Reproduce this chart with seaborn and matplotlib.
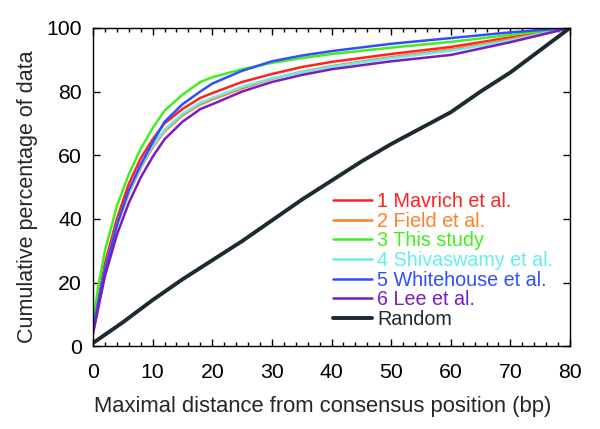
import numpy as np
import pandas as pd
import matplotlib
matplotlib.use("Agg")
import matplotlib.pyplot as plt
from matplotlib.ticker import MultipleLocator
import seaborn as sns

dist = [0, 1, 2, 4, 6, 8, 10, 12, 15, 18, 20, 25, 30, 35, 40, 50, 60, 70, 80]

mavrich = [5, 16, 26, 40, 51, 59, 65, 70, 74.5, 78, 79.5, 83, 85.5, 87.7, 89.3, 91.8, 94, 97, 100]
field = [4, 14, 24, 38, 48, 56, 62.5, 67.5, 72.5, 76, 77.5, 81, 84, 86.2, 88, 90.8, 93.2, 96.5, 100]
this_study = [8, 20, 30, 44, 54, 62, 68.5, 74, 79, 83, 84.5, 87, 89, 90.5, 91.8, 93.8, 95.6, 97.8, 100]
shivaswamy = [4, 14, 24, 38, 48.5, 56.5, 63, 68, 73, 76.5, 78, 81.5, 84.2, 86, 87.8, 90.5, 92.8, 96, 100]
whitehouse = [5, 15, 24, 38, 49, 57, 64, 70.5, 76, 80, 82.5, 86.5, 89.5, 91.3, 92.7, 95, 96.8, 98.6, 100]
lee = [4, 13, 22, 35, 45, 53, 59.5, 65, 70.5, 74.5, 76, 80, 83, 85.2, 87, 89.5, 91.5, 95.5, 100]

rand_dist = [0, 5, 10, 15, 20, 25, 30, 35, 40, 45, 50, 55, 60, 65, 70, 75, 80]
rand_vals = [1, 7.5, 14.5, 21, 27, 33, 39.5, 46, 52, 58, 63.5, 68.5, 73.5, 80, 86, 93, 100]

labels = ["1 Mavrich et al.", "2 Field et al.", "3 This study",
          "4 Shivaswamy et al.", "5 Whitehouse et al.", "6 Lee et al."]
colors = ["#ff2222", "#ff7f2a", "#44ee1c", "#66eeee", "#2f4fff", "#7a1cc0"]
rand_color = "#1c2b30"

series = [mavrich, field, this_study, shivaswamy, whitehouse, lee]
frames = [pd.DataFrame({"x": dist, "y": s, "set": lab}) for s, lab in zip(series, labels)]
df = pd.concat(frames, ignore_index=True)
df_rand = pd.DataFrame({"x": rand_dist, "y": rand_vals, "set": "Random"})

sns.set_style("ticks")
plt.rcParams["font.family"] = ["Liberation Sans", "DejaVu Sans"]

fig = plt.figure(figsize=(6, 4.29), dpi=100)
ax = fig.add_axes([0.155, 0.193, 0.795, 0.742])

sns.lineplot(data=df, x="x", y="y", hue="set", palette=colors, hue_order=labels,
             linewidth=1.8, ax=ax)
sns.lineplot(data=df_rand, x="x", y="y", color=rand_color, linewidth=2.8,
             label="Random", ax=ax)

ax.set_xlim(0, 80)
ax.set_ylim(0, 100)
ax.xaxis.set_major_locator(MultipleLocator(10))
ax.xaxis.set_minor_locator(MultipleLocator(2))
ax.yaxis.set_major_locator(MultipleLocator(20))
ax.tick_params(which="both", direction="in", top=True, right=True, width=1.0,
               labelsize=15.3, colors="black")
ax.tick_params(axis="x", pad=12)
ax.tick_params(axis="y", pad=8)
ax.tick_params(which="major", length=5)
ax.tick_params(which="minor", length=3)
for sp in ax.spines.values():
    sp.set_linewidth(1.0)
    sp.set_color("black")

ax.set_xlabel("Maximal distance from consensus position (bp)", fontsize=15.8)
ax.set_ylabel("Cumulative percentage of data", fontsize=15.5, labelpad=6)
ax.xaxis.set_label_coords(0.482, -0.158)
ax.yaxis.label.set_y(0.47)

handles, labs = ax.get_legend_handles_labels()
leg = ax.legend(handles, labs, frameon=False, fontsize=14.2, loc="upper left",
                bbox_to_anchor=(0.503, 0.485), handlelength=2.0, handletextpad=0.25,
                labelspacing=0.035, labelcolor="linecolor", borderaxespad=0,
                borderpad=0)

fig.savefig("out.png", dpi=100)
